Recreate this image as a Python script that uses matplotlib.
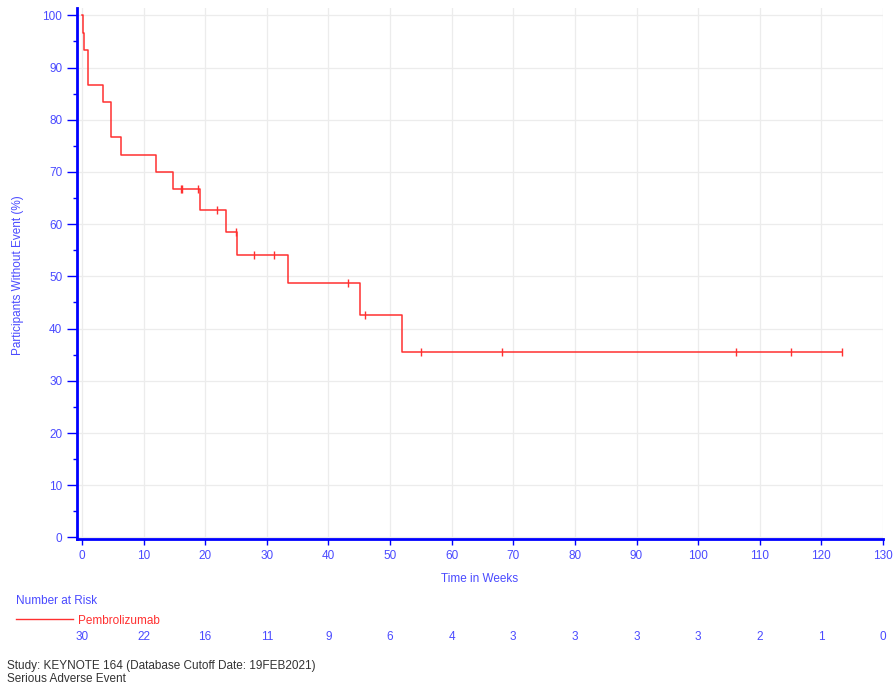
import numpy as np
import matplotlib
matplotlib.use("Agg")
import matplotlib.pyplot as plt
from matplotlib.ticker import MultipleLocator

# Kaplan-Meier step curve (time in weeks, % without event)
step_times = [0, 0.2, 0.37, 0.92, 1.0, 3.4, 4.7, 6.4, 12.1, 14.7, 19.1,
              23.4, 25.2, 33.5, 45.1, 51.9]
step_surv = [100, 96.67, 93.33, 90.0, 86.67, 83.33, 76.67, 73.33, 70.0,
             66.67, 62.75, 58.56, 54.06, 48.65, 42.57, 35.47]
censor_times = [16.0, 16.2, 18.9, 22.0, 25.0, 27.9, 31.2, 43.2, 46.0,
                55.0, 68.1, 106.1, 115.1, 123.3]
last_time = 123.3

# Number at risk table
risk_times = [0, 10, 20, 30, 40, 50, 60, 70, 80, 90, 100, 110, 120, 130]
risk_counts = [30, 22, 16, 11, 9, 6, 4, 3, 3, 3, 3, 2, 1, 0]

group_name = "Pembrolizumab"
x_title = "Time in Weeks"
y_title = "Participants Without Event (%)"
footnotes = ["Study: KEYNOTE 164 (Database Cutoff Date: 19FEB2021)",
             "Serious Adverse Event"]

plt.rcParams['font.family'] = ['Liberation Sans', 'DejaVu Sans']
plt.rcParams['font.size'] = 8.5

BLUE = '#0000ff'
TXT_BLUE = '#4a4aff'
RED = '#ff3030'
W, H = 893, 686

fig = plt.figure(figsize=(W / 100, H / 100), dpi=100)
ax = fig.add_axes([77 / W, 1 - 539 / H, (883 - 77) / W, (539 - 8) / H])

# step curve
xs = list(step_times) + [last_time]
ys = list(step_surv) + [step_surv[-1]]
ax.step(xs, ys, where='post', color=RED, lw=1.1, zorder=3)

# censor marks on the curve
st = np.array(step_times)
sv = np.array(step_surv)
cens_y = [sv[np.searchsorted(st, c, side='right') - 1] for c in censor_times]
ax.plot(censor_times, cens_y, ls='none', marker='|', ms=5.5, mew=1.0,
        color=RED, zorder=4)

ax.set_xlim(-0.8, 130)
ax.set_ylim(-0.3, 101.4)
ax.xaxis.set_major_locator(MultipleLocator(10))
ax.yaxis.set_major_locator(MultipleLocator(10))
ax.yaxis.set_minor_locator(MultipleLocator(5))

ax.grid(True, which='major', color='#ececec', lw=0.9, zorder=0)
for s in ['top', 'right']:
    ax.spines[s].set_visible(False)
for s in ['left', 'bottom']:
    ax.spines[s].set_color(BLUE)
    ax.spines[s].set_linewidth(2.0)

ax.tick_params(axis='y', which='major', length=7.5, width=1.0, color=BLUE,
               labelcolor=TXT_BLUE, pad=3, labelsize=8.5)
ax.tick_params(axis='y', which='minor', length=3, width=1.0, color=BLUE)
ax.tick_params(axis='x', which='major', length=4.5, width=1.0, color=BLUE,
               labelcolor=TXT_BLUE, pad=3.5, labelsize=8.5)

# axis titles
fig.text(17.6 / W, 1 - 275 / H, y_title, rotation=90, ha='center',
         va='center', color=TXT_BLUE, fontsize=8.5)
fig.text(480 / W, 1 - 579.5 / H, x_title, ha='center', va='center',
         color=TXT_BLUE, fontsize=8.5)

# number-at-risk block
fig.text(16 / W, 1 - 600.5 / H, "Number at Risk", ha='left', va='center',
         color=TXT_BLUE, fontsize=8.5)
fig.add_artist(plt.Line2D([16 / W, 73 / W], [1 - 619 / H, 1 - 619 / H],
                          color=RED, lw=1.0))
fig.text(78 / W, 1 - 621 / H, group_name, ha='left', va='center',
         color=RED, fontsize=8.5)
trans = ax.get_xaxis_transform()
risk_y_fig = 1 - 637.5 / H
for t, n in zip(risk_times, risk_counts):
    xd = ax.transData.transform((t, 0))[0]
    xf = fig.transFigure.inverted().transform((xd, 0))[0]
    fig.text(xf, risk_y_fig, str(n), ha='center', va='center',
             color=TXT_BLUE, fontsize=8.5)

# footnotes
fig.text(7 / W, 1 - 665.5 / H, footnotes[0], ha='left', va='center',
         color='#333333', fontsize=8.5)
fig.text(7 / W, 1 - 678.5 / H, footnotes[1], ha='left', va='center',
         color='#333333', fontsize=8.5)

fig.savefig('out.png', dpi=100)
